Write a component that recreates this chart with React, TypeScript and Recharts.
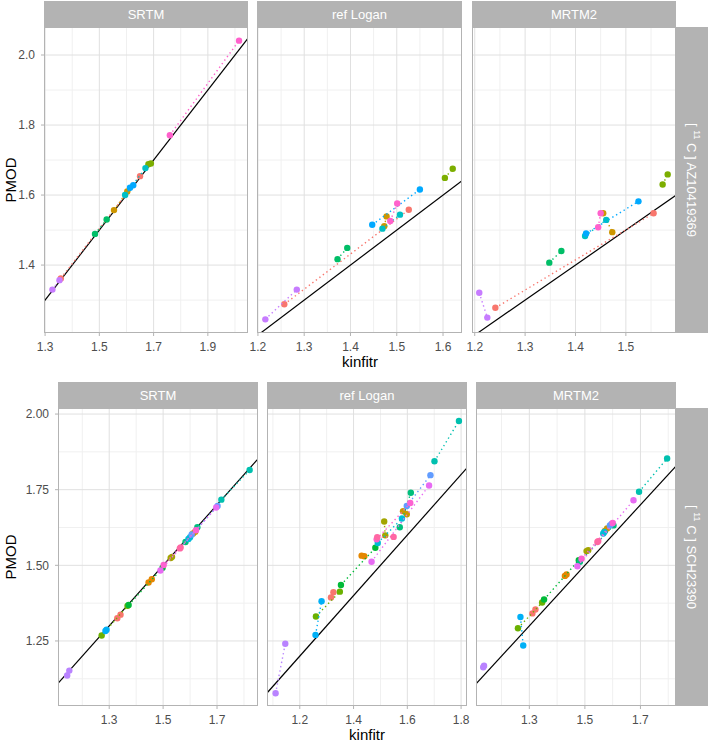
import React from "react";
import { ScatterChart, Scatter, XAxis, YAxis, ReferenceLine } from "recharts";

const FONT = '"Liberation Sans", Arial, Helvetica, sans-serif';

// ggplot hue palette, one colour per subject
const AZ_COLORS = ["#F8766D", "#CD9600", "#7CAE00", "#00BE67", "#00BFC4", "#00A9FF", "#C77CFF", "#FF61CC"];
const SCH_COLORS = [
  "#F8766D", "#E58700", "#C99800", "#A3A500", "#6BB100", "#00BA38", "#00BF7D", "#00C0AF",
  "#00BCD8", "#00B0F6", "#619CFF", "#B983FF", "#E76BF3", "#FD61D1", "#FF67A4",
];

const methods = ["SRTM", "ref Logan", "MRTM2"];

// [11C]AZ10419369 - per subject [test, retest]
const azSrtmKinfitr = [[1.358, 1.650], [1.554, 1.603], [1.681, 1.690], [1.484, 1.527], [1.595, 1.670], [1.613, 1.625], [1.327, 1.353], [1.760, 2.015]];
const azSrtmPmod = [[1.362, 1.654], [1.557, 1.610], [1.688, 1.690], [1.489, 1.530], [1.600, 1.677], [1.621, 1.628], [1.330, 1.357], [1.771, 2.041]];
const azLoganKinfitr = [[1.257, 1.526], [1.478, 1.473], [1.604, 1.621], [1.372, 1.393], [1.469, 1.507], [1.447, 1.550], [1.216, 1.284], [1.486, 1.501]];
const azLoganPmod = [[1.288, 1.558], [1.539, 1.511], [1.649, 1.675], [1.417, 1.449], [1.504, 1.544], [1.515, 1.616], [1.245, 1.330], [1.526, 1.576]];
const azMrtm2Kinfitr = [[1.241, 1.555], [1.455, 1.473], [1.573, 1.583], [1.348, 1.372], [1.419, 1.461], [1.421, 1.525], [1.209, 1.225], [1.445, 1.450]];
const azMrtm2Pmod = [[1.278, 1.548], [1.548, 1.494], [1.630, 1.659], [1.407, 1.440], [1.483, 1.529], [1.490, 1.582], [1.321, 1.250], [1.508, 1.548]];

// [11C]SCH23390
const schSrtmKinfitr = [[1.330, 1.342], [1.446, 1.458], [1.611, 1.619], [1.528, 1.533], [1.272, 1.368], [1.372, 1.498], [1.583, 1.627], [1.716, 1.821], [1.594, 1.600], [1.286, 1.290], [1.606, 1.702], [1.144, 1.152], [1.490, 1.697], [1.502, 1.622], [1.562, 1.565]];
const schSrtmPmod = [[1.325, 1.337], [1.443, 1.454], [1.605, 1.611], [1.524, 1.528], [1.268, 1.366], [1.369, 1.492], [1.577, 1.626], [1.717, 1.815], [1.587, 1.593], [1.283, 1.287], [1.602, 1.696], [1.136, 1.152], [1.483, 1.691], [1.501, 1.616], [1.556, 1.559]];
const schLoganKinfitr = [[1.316, 1.325], [1.430, 1.440], [1.584, 1.598], [1.514, 1.518], [1.260, 1.349], [1.353, 1.481], [1.572, 1.613], [1.701, 1.792], [1.490, 1.580], [1.2585, 1.281], [1.598, 1.686], [1.110, 1.146], [1.467, 1.681], [1.486, 1.611], [1.488, 1.549]];
const schLoganPmod = [[1.394, 1.411], [1.532, 1.530], [1.679, 1.669], [1.645, 1.599], [1.331, 1.413], [1.435, 1.558], [1.626, 1.740], [1.844, 1.977], [1.574, 1.655], [1.270, 1.381], [1.696, 1.798], [1.077, 1.241], [1.512, 1.764], [1.586, 1.706], [1.593, 1.594]];
const schMrtm2Kinfitr = [[1.311, 1.322], [1.428, 1.434], [1.572, 1.580], [1.506, 1.512], [1.259, 1.346], [1.353, 1.478], [1.482, 1.603], [1.695, 1.796], [1.566, 1.570], [1.268, 1.278], [1.590, 1.596], [1.134, 1.137], [1.473, 1.675], [1.488, 1.600], [1.545, 1.548]];
const schMrtm2Pmod = [[1.341, 1.354], [1.465, 1.470], [1.614, 1.622], [1.547, 1.550], [1.292, 1.377], [1.387, 1.517], [1.512, 1.632], [1.743, 1.853], [1.605, 1.610], [1.329, 1.235], [1.632, 1.637], [1.163, 1.168], [1.497, 1.715], [1.522, 1.640], [1.577, 1.580]];

// axis breaks
const azYTicks = [1.4, 1.6, 1.8, 2.0];
const azYMinor = [1.3, 1.5, 1.7, 1.9];
const schYTicks = [1.25, 1.5, 1.75, 2.0];
const schYMinor = [1.125, 1.375, 1.625, 1.875];

const azXTicks = [[1.3, 1.5, 1.7, 1.9], [1.2, 1.3, 1.4, 1.5, 1.6], [1.2, 1.3, 1.4, 1.5]];
const azXMinor = [[1.4, 1.6, 1.8, 2.0], [1.25, 1.35, 1.45, 1.55], [1.25, 1.35, 1.45, 1.55]];
const schXTicks = [[1.3, 1.5, 1.7], [1.2, 1.4, 1.6, 1.8], [1.3, 1.5, 1.7]];
const schXMinor = [[1.2, 1.4, 1.6, 1.8], [1.1, 1.3, 1.5, 1.7], [1.2, 1.4, 1.6, 1.8]];

const GRID_MAJOR = "#E0E0E0";
const GRID_MINOR = "#F0F0F0";
const GREY70 = "#B3B3B3";
const PAD = 14; // room so edge tick labels are not clipped

function TickLabel(props: any) {
  const { x, y, payload, dec, axis } = props;
  const label = payload.value.toFixed(dec);
  if (axis === "x") {
    return (
      <text x={x} y={y} dy="0.71em" textAnchor="middle" fill="#4D4D4D" fontSize={12} fontFamily={FONT}>
        {label}
      </text>
    );
  }
  return (
    <text x={x} y={y} dy="0.355em" textAnchor="end" fill="#4D4D4D" fontSize={12} fontFamily={FONT}>
      {label}
    </text>
  );
}

function Panel(props: any) {
  const { left, top, width, height, yAxisWidth, xDomain, yDomain, xTicks, yTicks, xMinor, yMinor, kin, pmod, colors, yDec } = props;
  const series = kin.map((xs: number[], i: number) => xs.map((x, j) => ({ x, y: pmod[i][j] })));
  const lo = Math.min(xDomain[0], yDomain[0]);
  const hi = Math.max(xDomain[1], yDomain[1]);
  return (
    <div style={{ position: "absolute", left: left - yAxisWidth - PAD, top }}>
      <ScatterChart width={width + yAxisWidth + 2 * PAD} height={height + 30} margin={{ top: 0, right: PAD, bottom: 0, left: PAD }}>
        <XAxis
          type="number"
          dataKey="x"
          domain={xDomain}
          ticks={xTicks}
          allowDataOverflow
          interval={0}
          height={30}
          tickSize={3}
          tickMargin={6}
          axisLine={false}
          tickLine={{ stroke: GREY70 }}
          tick={<TickLabel axis="x" dec={1} />}
        />
        <YAxis
          type="number"
          dataKey="y"
          domain={yDomain}
          ticks={yTicks}
          allowDataOverflow
          interval={0}
          width={yAxisWidth}
          hide={yAxisWidth === 0}
          tickSize={3}
          tickMargin={6}
          axisLine={false}
          tickLine={{ stroke: GREY70 }}
          tick={<TickLabel axis="y" dec={yDec} />}
        />
        {xMinor.map((v: number) => <ReferenceLine key={"xm" + v} x={v} stroke={GRID_MINOR} strokeWidth={1} />)}
        {yMinor.map((v: number) => <ReferenceLine key={"ym" + v} y={v} stroke={GRID_MINOR} strokeWidth={1} />)}
        {xTicks.map((v: number) => <ReferenceLine key={"xt" + v} x={v} stroke={GRID_MAJOR} strokeWidth={1} />)}
        {yTicks.map((v: number) => <ReferenceLine key={"yt" + v} y={v} stroke={GRID_MAJOR} strokeWidth={1} />)}
        <ReferenceLine
          segment={[{ x: lo, y: lo }, { x: hi, y: hi }]}
          stroke="#000"
          strokeWidth={1.2}
          ifOverflow="hidden"
        />
        {series.map((d: any[], i: number) => (
          <Scatter
            key={i}
            data={d}
            fill={colors[i]}
            line={{ stroke: colors[i], strokeWidth: 1.4, strokeDasharray: "1.4 3" }}
            shape={(p: any) => <circle cx={p.cx} cy={p.cy} r={3.2} fill={colors[i]} />}
            isAnimationActive={false}
          />
        ))}
      </ScatterChart>
    </div>
  );
}

const rows = [
  {
    top: 27, height: 306, lefts: [44, 257, 472], widths: [204, 205, 204], yAxisWidth: 44,
    yDomain: [1.206, 2.08], yTicks: azYTicks, yMinor: azYMinor, yDec: 1,
    xDomains: [[1.296, 2.048], [1.198, 1.641], [1.1946, 1.5995]],
    xTicks: azXTicks, xMinor: azXMinor, colors: AZ_COLORS,
    kin: [azSrtmKinfitr, azLoganKinfitr, azMrtm2Kinfitr],
    pmod: [azSrtmPmod, azLoganPmod, azMrtm2Pmod],
    tracer: "AZ10419369", titleY: 367,
  },
  {
    top: 408, height: 298, lefts: [58, 267, 476], widths: [200, 200, 200], yAxisWidth: 58,
    yDomain: [1.035, 2.02], yTicks: schYTicks, yMinor: schYMinor, yDec: 2,
    xDomains: [[1.11, 1.852], [1.078, 1.822], [1.108, 1.828]],
    xTicks: schXTicks, xMinor: schXMinor, colors: SCH_COLORS,
    kin: [schSrtmKinfitr, schLoganKinfitr, schMrtm2Kinfitr],
    pmod: [schSrtmPmod, schLoganPmod, schMrtm2Pmod],
    tracer: "SCH23390", titleY: 740,
  },
];

export default function App() {
  return (
    <div style={{ position: "absolute", left: 0, top: 0, width: 709, height: 745, background: "#fff", fontFamily: FONT, overflow: "hidden" }}>
      {rows.map((r, ri) =>
        methods.map((m, ci) => (
          <Panel
            key={ri + "-" + ci}
            left={r.lefts[ci]}
            top={r.top}
            width={r.widths[ci]}
            height={r.height}
            yAxisWidth={ci === 0 ? r.yAxisWidth : 0}
            xDomain={r.xDomains[ci]}
            yDomain={r.yDomain}
            xTicks={r.xTicks[ci]}
            xMinor={r.xMinor[ci]}
            yTicks={r.yTicks}
            yMinor={r.yMinor}
            yDec={r.yDec}
            kin={r.kin[ci]}
            pmod={r.pmod[ci]}
            colors={r.colors}
          />
        ))
      )}
      <svg width={709} height={745} style={{ position: "absolute", left: 0, top: 0, pointerEvents: "none" }}>
        {rows.map((r, ri) => {
          const stripTop = r.top - 26;
          const plotLeft = r.lefts[0];
          const plotRight = r.lefts[2] + r.widths[2];
          const midY = r.top + r.height / 2;
          return (
            <g key={"o" + ri}>
              {methods.map((m, ci) => (
                <g key={m}>
                  <rect x={r.lefts[ci]} y={stripTop} width={r.widths[ci]} height={26} fill={GREY70} />
                  <text x={r.lefts[ci] + r.widths[ci] / 2} y={stripTop + 13} fill="#fff" fontSize={13} textAnchor="middle" dominantBaseline="central">{m}</text>
                  <rect x={r.lefts[ci] + 0.5} y={r.top + 0.5} width={r.widths[ci] - 1} height={r.height - 1} fill="none" stroke={GREY70} strokeWidth={1} />
                </g>
              ))}
              <rect x={676} y={r.top} width={32} height={r.height} fill={GREY70} />
              <text transform={`translate(692,${midY}) rotate(90)`} fill="#fff" fontSize={13} textAnchor="middle" dominantBaseline="central">
                {"[ "}
                <tspan fontSize={9} dy={-5}>11</tspan>
                <tspan dy={5}>{" C ] " + r.tracer}</tspan>
              </text>
              <text transform={`translate(16,${midY}) rotate(-90)`} fontSize={15} fill="#000" textAnchor="middle">PMOD</text>
              <text x={(plotLeft + plotRight) / 2} y={r.titleY} fontSize={15} fill="#000" textAnchor="middle">kinfitr</text>
            </g>
          );
        })}
      </svg>
    </div>
  );
}
